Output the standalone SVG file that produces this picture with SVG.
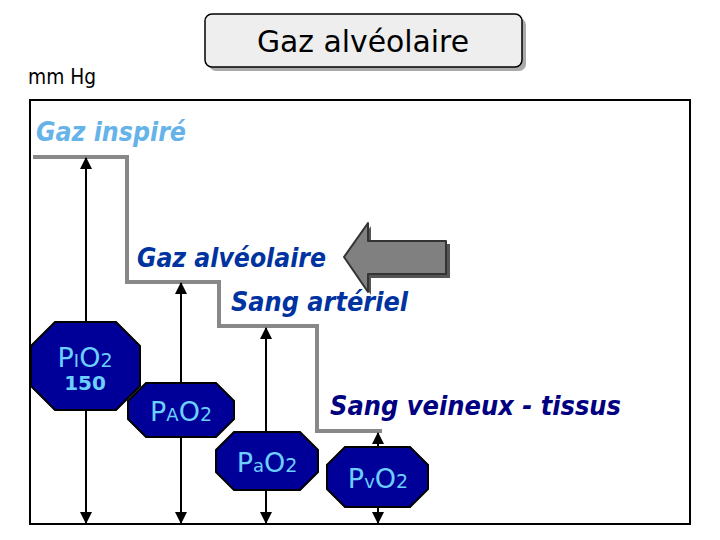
<svg xmlns="http://www.w3.org/2000/svg" width="720" height="540" viewBox="0 0 720 540">
<defs>
<style>
.lbl{font-family:"DejaVu Sans","Liberation Sans",sans-serif;font-weight:bold;font-style:italic;font-size:27px}
.oct{fill:#000099;stroke:#000;stroke-width:2}
.ot{font-family:"DejaVu Sans","Liberation Sans",sans-serif;fill:#6ccfff;text-anchor:middle}
.ax{stroke:#000;stroke-width:2;fill:none;marker-start:url(#ah);marker-end:url(#ah)}
</style>
<marker id="ah" viewBox="0 0 12 12" refX="11" refY="6" markerWidth="6" markerHeight="6" orient="auto-start-reverse" markerUnits="strokeWidth">
<path d="M0,0 L12,6 L0,12 Z" fill="#000"/>
</marker>
</defs>
<rect width="720" height="540" fill="#fff"/>
<g id="title">
<rect x="209" y="18" width="317" height="53" rx="7" fill="#aaa"/>
<rect x="205" y="14" width="317" height="53" rx="7" fill="#eeeeee" stroke="#000" stroke-width="1.5"/>
<text x="363" y="52" text-anchor="middle" font-family="DejaVu Sans, sans-serif" font-size="31" textLength="212" lengthAdjust="spacingAndGlyphs">Gaz alvéolaire</text>
</g>
<text id="unit" x="28" y="84" font-family="DejaVu Sans, sans-serif" font-size="21" textLength="68" lengthAdjust="spacingAndGlyphs">mm Hg</text>
<rect id="frame" x="30" y="100" width="660" height="424" fill="none" stroke="#000" stroke-width="2"/>
<polyline id="steps" points="33,157 127,157 127,282 219,282 219,326 317,326 317,431 382,431" fill="none" stroke="#888" stroke-width="4"/>
<g id="labels">
<text class="lbl" x="36" y="141" fill="#66b3ea" textLength="150" lengthAdjust="spacingAndGlyphs">Gaz inspiré</text>
<text class="lbl" x="137" y="267" fill="#0033a0" textLength="189" lengthAdjust="spacingAndGlyphs">Gaz alvéolaire</text>
<text class="lbl" x="231" y="311" fill="#0033a0" textLength="177" lengthAdjust="spacingAndGlyphs">Sang artériel</text>
<text class="lbl" x="330" y="415" fill="#000080" textLength="291" lengthAdjust="spacingAndGlyphs">Sang veineux - tissus</text>
</g>
<g id="bigarrow">
<polygon points="347,260 371,226 371,244 450,244 450,278 371,278 371,295" fill="#555"/>
<polygon points="344,257 368,223 368,241 446,241 446,274 368,274 368,292" fill="#808080" stroke="#333" stroke-width="2" stroke-linejoin="round"/>
</g>
<g id="connectors">
<line class="ax" x1="86" y1="158" x2="86" y2="523"/>
<line class="ax" x1="181" y1="283" x2="181" y2="523"/>
<line class="ax" x1="266" y1="328" x2="266" y2="523"/>
<line class="ax" x1="378" y1="433" x2="378" y2="523"/>
</g>
<g id="PIO2">
<polygon class="oct" points="55,322 116,322 140,346 140,386 116,410 55,410 31,386 31,346"/>
<text class="ot" x="85" y="367" font-size="27">P<tspan font-size="18">I</tspan>O<tspan font-size="19">2</tspan></text>
<text class="ot" x="85" y="390" font-size="20" font-weight="bold">150</text>
</g>
<g id="PAO2">
<polygon class="oct" points="146,383 216,383 234,401 234,419 216,437 146,437 128,419 128,401"/>
<text class="ot" x="181" y="421" font-size="27">P<tspan font-size="18">A</tspan>O<tspan font-size="19">2</tspan></text>
</g>
<g id="PaO2">
<polygon class="oct" points="234,432 300,432 318,450 318,472 300,490 234,490 216,472 216,450"/>
<text class="ot" x="267" y="472" font-size="27">P<tspan font-size="18">a</tspan>O<tspan font-size="19">2</tspan></text>
</g>
<g id="PvO2">
<polygon class="oct" points="345,447 410,447 428,465 428,489 410,507 345,507 327,489 327,465"/>
<text class="ot" x="378" y="488" font-size="27">P<tspan font-size="18">v</tspan>O<tspan font-size="19">2</tspan></text>
</g>
</svg>
